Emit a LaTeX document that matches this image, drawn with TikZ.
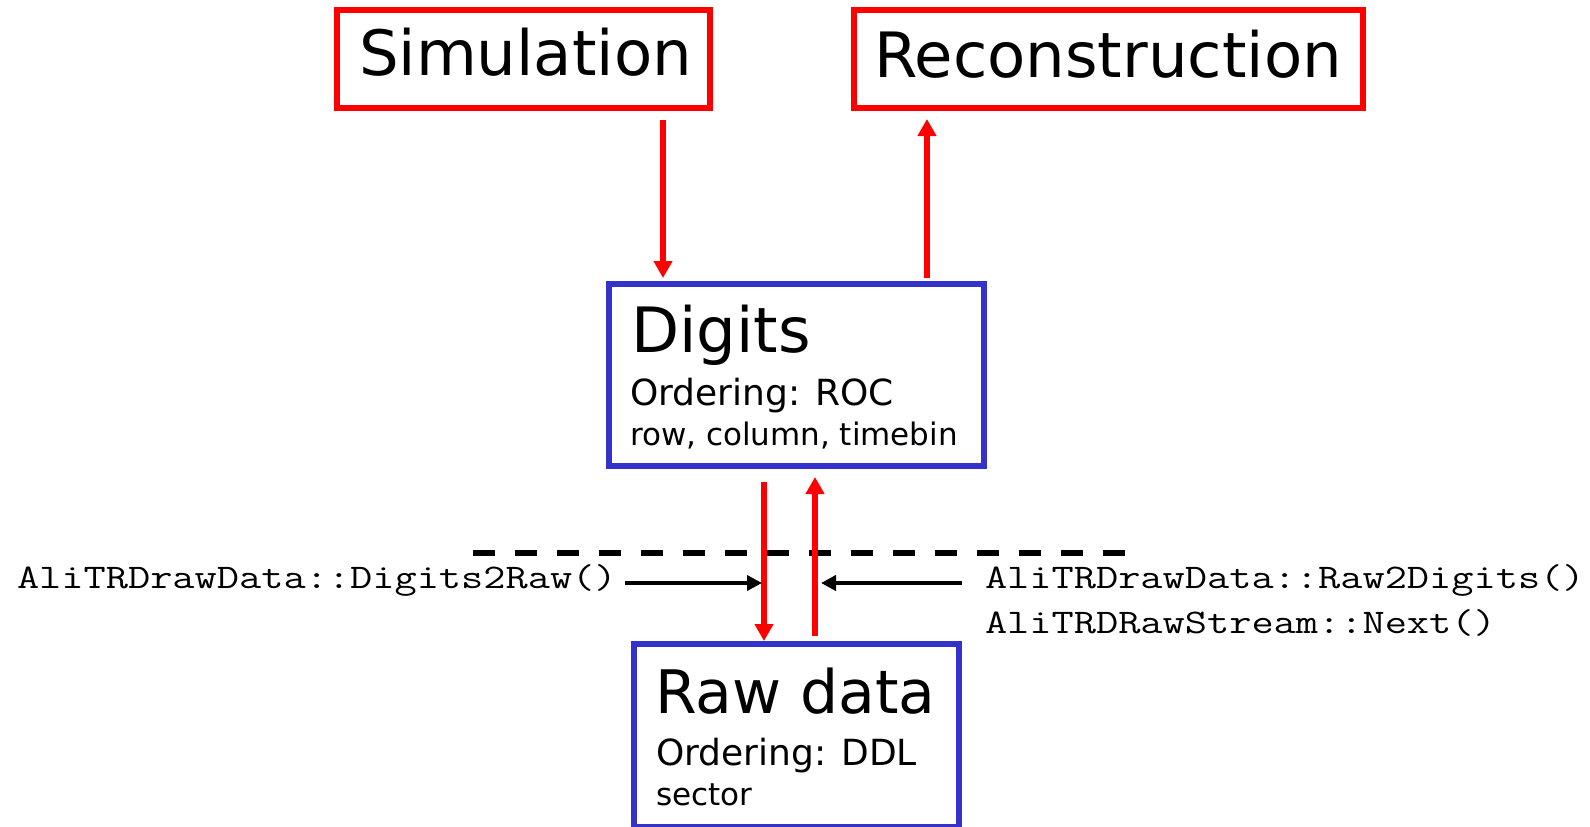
\documentclass[tikz,border=0pt]{standalone}
\usepackage{fontspec}
\setmainfont{DejaVu Sans}
\newfontfamily\monofnt[FakeStretch=1.25]{Latin Modern Mono}
\usetikzlibrary{arrows.meta}
\definecolor{boxred}{RGB}{255,0,0}
\definecolor{boxblue}{RGB}{51,51,204}
\tikzset{
  redbox/.style={draw=boxred, line width=6pt, rectangle, inner sep=0pt},
  bluebox/.style={draw=boxblue, line width=6pt, rectangle, inner sep=0pt},
  txt/.style={anchor=base west, inner sep=0pt, outer sep=0pt},
  bigtxt/.style={txt, font=\fontsize{62.5}{75}\selectfont},
  rawtxt/.style={txt, font=\fontsize{60}{72}\selectfont},
  midtxt/.style={txt, font=\fontsize{36}{43}\selectfont},
  smalltxt/.style={txt, font=\fontsize{31}{37}\selectfont},
  monotxt/.style={txt, font=\monofnt\fontsize{34.5}{42}\selectfont},
  redarr/.style={draw=boxred, line width=6pt, -{Triangle[width=18pt,length=17pt]}},
  blackarr/.style={draw=black, line width=4pt, -{Triangle[width=15pt,length=15pt]}},
  dashline/.style={draw=black, line width=6pt, dash pattern=on 22pt off 20pt}
}
\begin{document}
\begin{tikzpicture}[x=1pt, y=-1pt]
\useasboundingbox (0,0) rectangle (1590,827);
% boxes
\node[redbox, minimum width=373pt, minimum height=98pt] (sim) at (523.5,58.5) {};
\node[redbox, minimum width=509pt, minimum height=98pt] (rec) at (1108.5,58.5) {};
\node[bluebox, minimum width=375pt, minimum height=182pt] (dig) at (796.5,375) {};
\node[bluebox, minimum width=325pt, minimum height=183pt] (raw) at (796.5,735.5) {};
% box texts
\node[bigtxt] (simt) at (359,75) {Simulation};
\node[bigtxt] (rect) at (874,77) {Reconstruction};
\node[bigtxt] (digt) at (631,352) {Digits};
\node[midtxt] (digo) at (630,405) {Ordering: ROC};
\node[smalltxt] (digr) at (630,445) {row, column, timebin};
\node[rawtxt] (rawt) at (655,713) {Raw data};
\node[midtxt] (rawo) at (656,765) {Ordering: DDL};
\node[smalltxt] (raws) at (656,805) {sector};
% method labels
\node[monotxt] (d2r) at (17,588) {AliTRDrawData::Digits2Raw()};
\node[monotxt] (r2d) at (985,588) {AliTRDrawData::Raw2Digits()};
\node[monotxt] (nxt) at (985,633) {AliTRDRawStream::Next()};
% dashed separator
\coordinate (dl) at (473,553);
\coordinate (dr) at (1125,553);
\draw[dashline] (dl) -- (dr);
% red arrows
\draw[redarr, shorten <=9pt, shorten >=3pt] (sim.south -| 663,0) -- (dig.north -| 663,0);
\draw[redarr, shorten <=3pt, shorten >=8.5pt] (dig.north -| 927,0) -- (rec.south -| 927,0);
\draw[redarr, shorten <=13pt, shorten >=0pt] (dig.south -| 764,0) -- (raw.north -| 764,0);
\draw[redarr, shorten <=5pt, shorten >=8pt] (raw.north -| 815,0) -- (dig.south -| 815,0);
% black arrows
\coordinate (m1) at (762,583);
\coordinate (m2) at (821,583);
\draw[blackarr, shorten <=8pt] (d2r.east |- m1) -- (m1);
\draw[blackarr, shorten <=23pt] (r2d.west |- m2) -- (m2);
\end{tikzpicture}
\end{document}
